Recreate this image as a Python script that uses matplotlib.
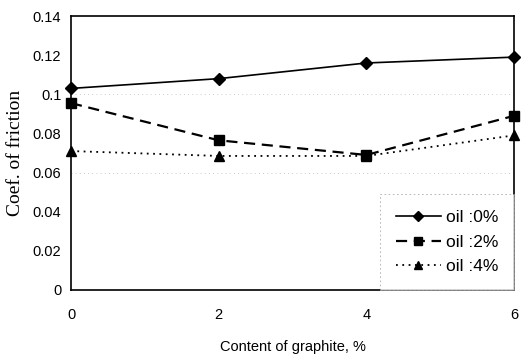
import matplotlib
matplotlib.use("Agg")
import matplotlib.pyplot as plt

graphite = [0, 2, 4, 6]
oil0 = [0.103, 0.108, 0.116, 0.119]
oil2 = [0.0955, 0.0765, 0.069, 0.089]
oil4 = [0.071, 0.0685, 0.0685, 0.079]
labels = ["oil :0%", "oil :2%", "oil :4%"]
yticks = [0, 0.02, 0.04, 0.06, 0.08, 0.1, 0.12, 0.14]
yticklabels = ["0", "0.02", "0.04", "0.06", "0.08", "0.1", "0.12", "0.14"]
xticks = [0, 2, 4, 6]

fig = plt.figure(figsize=(5.23, 3.56), dpi=100)
ax = fig.add_axes([0.1358, 0.1854, 0.8470, 0.7696])

for yv in [0.06, 0.1]:
    ax.axhline(yv, color="#bbbbbb", lw=0.6, ls=(0, (1, 4)), zorder=0)

ax.plot(graphite, oil0, color="black", lw=1.2, ls="-", marker="D", ms=6,
        clip_on=False, label=labels[0])
ax.plot(graphite, oil2, color="black", lw=1.6, ls=(0, (5, 3)), marker="s", ms=6.5,
        clip_on=False, label=labels[1])
ax.plot(graphite, oil4, color="black", lw=1.3, ls=(0, (1, 2.5)), marker="^", ms=6.5,
        clip_on=False, label=labels[2])

ax.set_xlim(0, 6)
ax.set_ylim(0, 0.14)
ax.set_xticks(xticks)
ax.set_xticklabels([str(x) for x in xticks], fontsize=10.5, family="Liberation Sans")
ax.set_yticks(yticks)
ax.set_yticklabels(yticklabels, fontsize=10.5, family="Liberation Sans")
ax.tick_params(axis="y", length=0, pad=7)
ax.tick_params(axis="x", length=0, pad=13)
for s in ax.spines.values():
    s.set_linewidth(1.2)

ax.set_xlabel("Content of graphite, %", fontsize=10.5, family="Liberation Sans", labelpad=13)
ax.set_ylabel("Coef. of friction", fontsize=14, family="Liberation Serif", labelpad=6)

leg = ax.legend(loc="lower right", bbox_to_anchor=(1.0, 0.0), frameon=True,
                fancybox=False, edgecolor="#999999", handlelength=2.6,
                borderpad=0.9, labelspacing=0.55, handletextpad=0.3,
                borderaxespad=0.0, markerscale=0.85,
                prop={"family": "Liberation Sans", "size": 12.5})
leg.get_frame().set_linewidth(0.6)
leg.get_frame().set_linestyle((0, (2, 3)))

fig.savefig("out.png", dpi=100)
